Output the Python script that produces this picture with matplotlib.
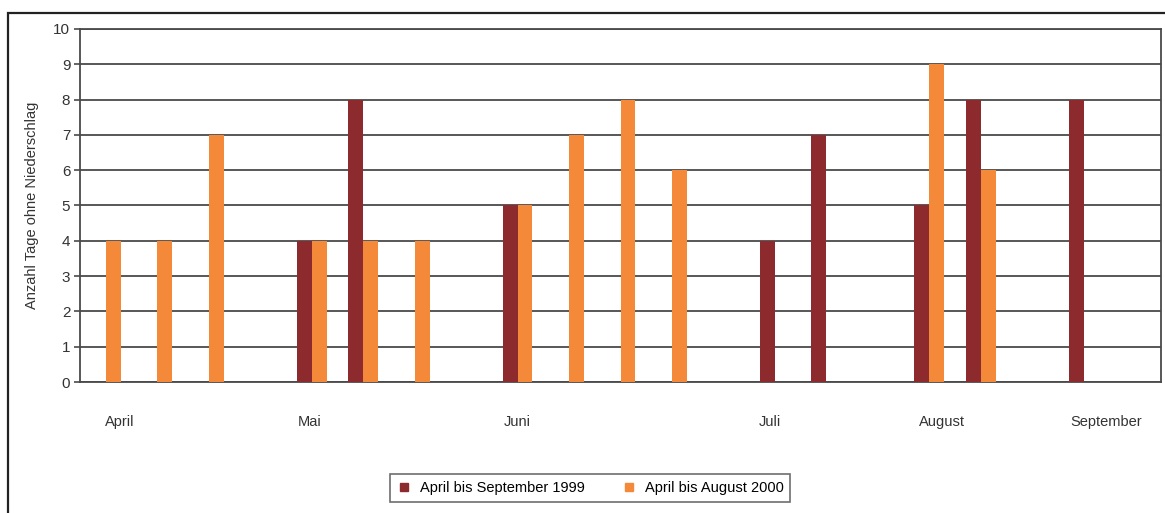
import numpy as np
import matplotlib.pyplot as plt
from matplotlib.lines import Line2D
from matplotlib.patches import Rectangle

plt.rcParams["font.family"] = ["Liberation Sans Narrow", "Liberation Sans", "DejaVu Sans"]

# one slot per observation period, empty slots keep the spacing
SLOTS = np.arange(21)
DAYS_1999 = [0, 0, 0, 0, 4, 8, 0, 0, 5, 0, 0, 0, 0, 4, 7, 0, 5, 8, 0, 8, 0]
DAYS_2000 = [4, 4, 7, 0, 4, 4, 4, 0, 5, 7, 8, 6, 0, 0, 0, 0, 9, 6, 0, 0, 0]

MONTHS = ["April", "Mai", "Juni", "Juli", "August", "September"]
MONTH_POS = [0.28, 3.97, 8.0, 12.9, 16.24, 19.44]

LABEL_1999 = "April bis September 1999"
LABEL_2000 = "April bis August 2000"
COLOR_1999 = "#8c2a2d"
COLOR_2000 = "#f5893a"
GRID = "#4a4a4a"

fig = plt.figure(figsize=(11.65, 5.13), dpi=100)
ax = fig.add_axes([80 / 1165, 1 - 382 / 513, (1161 - 80) / 1165, (382 - 29) / 513])

w = 0.29
ax.bar(SLOTS - w / 2, DAYS_1999, width=w, color=COLOR_1999, zorder=3)
ax.bar(SLOTS + w / 2, DAYS_2000, width=w, color=COLOR_2000, zorder=3)

ax.set_xlim(-0.5, 20.5)
ax.set_ylim(0, 10)
ax.set_yticks(range(0, 11))
ax.yaxis.grid(True, color=GRID, linewidth=1.3, zorder=0)
ax.set_axisbelow(True)

ax.set_xticks(MONTH_POS, MONTHS)
ax.tick_params(axis="x", length=0, pad=24, labelsize=10.5, labelcolor="#333333")
ax.tick_params(axis="y", length=4, width=1.2, color=GRID, labelsize=11, labelcolor="#333333", pad=3)

for side in ["left", "right", "top", "bottom"]:
    ax.spines[side].set_color(GRID)
    ax.spines[side].set_linewidth(1.3)

ax.set_ylabel("Anzahl Tage ohne Niederschlag", fontsize=10.5, color="#333333", labelpad=10)

handles = [
    Line2D([], [], marker="s", linestyle="none", markersize=6, color=COLOR_1999),
    Line2D([], [], marker="s", linestyle="none", markersize=6, color=COLOR_2000),
]
leg = fig.legend(handles, [LABEL_1999, LABEL_2000], loc="center",
                 bbox_to_anchor=(590 / 1165, 1 - 488 / 513), ncol=2,
                 fontsize=10.5, frameon=True, fancybox=False,
                 handlelength=1.0, handletextpad=0.6, columnspacing=2.5,
                 borderpad=0.45)
leg.get_frame().set_edgecolor(GRID)
leg.get_frame().set_linewidth(1.2)

# outer frame around the whole graphic
fig.add_artist(Rectangle((8 / 1165, -0.1), 1.2, 1 - 13 / 513 + 0.1,
                         transform=fig.transFigure, fill=False,
                         edgecolor="#222222", linewidth=1.6))

fig.savefig("out.png", dpi=100)
